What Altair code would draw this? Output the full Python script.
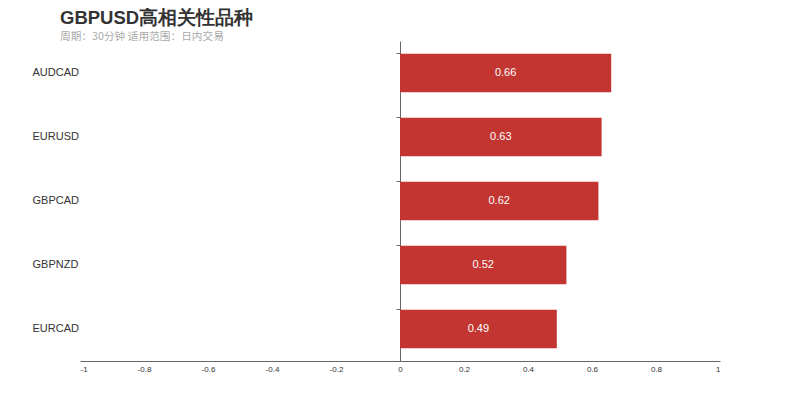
import altair as alt
import pandas as pd

pairs = ["AUDCAD", "EURUSD", "GBPCAD", "GBPNZD", "EURCAD"]
corr = [0.66, 0.63, 0.62, 0.52, 0.49]
tick_vals = [-1, -0.8, -0.6, -0.4, -0.2, 0, 0.2, 0.4, 0.6, 0.8, 1]
title_text = "GBPUSD高相关性品种"
subtitle_text = "周期：30分钟 适用范围：日内交易"

df = pd.DataFrame({"pair": pairs, "corr": corr})
df["mid"] = df["corr"] / 2
df["label"] = df["corr"].map(lambda v: f"{v:.2f}")
tdf = pd.DataFrame({"title": [title_text], "subtitle": [subtitle_text]})

y_enc = alt.Y(
    "pair:N", sort=pairs, title=None,
    scale=alt.Scale(paddingInner=0.4, paddingOuter=0.2),
    axis=alt.Axis(
        offset=-320, domainColor="#666", tickColor="#666", tickSize=4,
        bandPosition=0, labelAlign="left", labelPadding=364,
        labelFont="Liberation Sans", labelFontSize=11, labelColor="#333",
        grid=False,
    ),
)
x_scale = alt.Scale(domain=[-1, 1], nice=False)
x_axis = alt.Axis(
    values=tick_vals, ticks=False, grid=False, domainColor="#666",
    labelFont="Liberation Sans", labelFontSize=8, labelColor="#333",
    labelPadding=4, labelExpr="'' + datum.value",
)

bars = alt.Chart(df).mark_bar(color="#c23531").encode(
    x=alt.X("corr:Q", scale=x_scale, axis=x_axis, title=None),
    y=y_enc,
)
labels = alt.Chart(df).mark_text(
    color="white", font="Liberation Sans", fontSize=11
).encode(
    x=alt.X("mid:Q", scale=x_scale),
    y=alt.Y("pair:N", sort=pairs),
    text="label:N",
)
title_mark = alt.Chart(tdf).mark_text(
    align="left", baseline="alphabetic", font="Liberation Sans",
    fontSize=18.5, fontWeight="bold", color="#333",
).encode(x=alt.value(-20), y=alt.value(-17), text="title:N")
subtitle_mark = alt.Chart(tdf).mark_text(
    align="left", baseline="alphabetic", font="Noto Sans CJK SC",
    fontSize=10.7, color="#aaa",
).encode(x=alt.value(-20), y=alt.value(-1), text="subtitle:N")

chart = alt.layer(bars, labels, title_mark, subtitle_mark).properties(
    width=640, height=320,
    padding={"left": 24, "top": 1, "right": 5, "bottom": 5},
).configure_view(stroke=None)

chart.save("out.html", embed_options={"renderer": "svg", "actions": False})
